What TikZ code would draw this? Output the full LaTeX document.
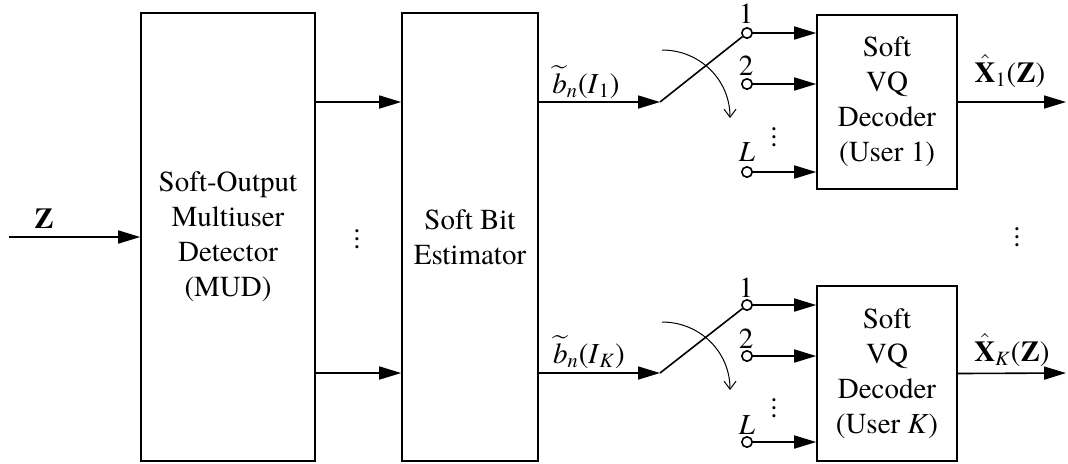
\documentclass[tikz,border=0pt]{standalone}
\usepackage{amsmath,amssymb}
\usepackage{fontspec}
\setmainfont{texgyretermes-regular.otf}[
  BoldFont=texgyretermes-bold.otf,
  ItalicFont=texgyretermes-italic.otf,
  BoldItalicFont=texgyretermes-bolditalic.otf]
\usepackage{tikz}
\usetikzlibrary{arrows.meta, calc, positioning}

\begin{document}
\begin{tikzpicture}[x=0.5pt,y=-0.5pt,
every node/.style={font=\fontsize{14.5}{17.5}\selectfont},
blk/.style={draw, line width=0.8pt, align=center, inner sep=2pt},
lbl/.style={inner sep=1pt},
sig/.style={line width=0.8pt, -{Triangle[length=11pt,width=6.5pt]}},
wire/.style={line width=0.8pt},
contact/.style={circle, draw, line width=0.8pt, fill=white, inner sep=0pt, minimum size=5.2pt},
turn/.style={line width=0.5pt, -{Straight Barb[length=4pt,width=6pt]}}]
\useasboundingbox (0,0) rectangle (1068,463);

% detector and bit estimator
\node[blk, minimum width=87pt, minimum height=224pt] (mud) at (228,237) {Soft-Output\\Multiuser\\Detector\\(MUD)};
\node[blk, minimum width=68pt, minimum height=224pt] (sbe) at (470,237) {Soft Bit\\Estimator};
\coordinate (zin) at (9,237);
\draw[sig] (zin) -- (mud.west);
\node[lbl] (zlab) at (44,219) {\textbf{Z}};
\node[lbl] (dots1) at (357,233) {\vdots};

% decoders
\node[blk, minimum width=70pt, minimum height=87pt] (dec1) at (887,102) {Soft\\VQ\\Decoder\\(User 1)};
\node[blk, minimum width=70pt, minimum height=87.5pt] (decK) at (887,373.5) {Soft\\VQ\\Decoder\\(User \textit{K})};

% user 1 branch
\coordinate (piv1) at (660,102);
\draw[sig] (mud.east |- piv1) -- (sbe.west |- piv1);
\draw[sig] (sbe.east |- piv1) -- (piv1);
\node[lbl] (b1) at (586,82) {$\widetilde{\textit{b}}_{\textit{n}}$(\textit{I}\textsubscript{1})};
\node[contact] (c11) at (747,33) {};
\node[contact] (c12) at (747,84) {};
\node[contact] (c1L) at (747,172) {};
\node[lbl] (l11) at (746,14) {1};
\node[lbl] (l12) at (746,66) {2};
\node[lbl] (l1L) at (747,152) {\textit{L}};
\node[lbl] (dots2) at (774,131) {\vdots};
\draw[wire] (piv1) -- (c11);
\draw[turn] (662,50) .. controls (700,50) and (730,80) .. (730,118);
\draw[sig] (c11) -- (dec1.west |- c11);
\draw[sig] (c12) -- (dec1.west |- c12);
\draw[sig] (c1L) -- (dec1.west |- c1L);
\coordinate (out1) at (1066,102);
\draw[sig] (dec1.east) -- (out1);
\node[lbl] (x1) at (1010,71) {$\hat{\textbf{X}}$\textsubscript{1}(\textbf{Z})};

\node[lbl] (dots3) at (1017,231) {\vdots};

% user K branch
\coordinate (pivK) at (660,373);
\draw[sig] (mud.east |- pivK) -- (sbe.west |- pivK);
\draw[sig] (sbe.east |- pivK) -- (pivK);
\node[lbl] (bK) at (589,352) {$\widetilde{\textit{b}}_{\textit{n}}$(\textit{I}\textsubscript{\textit{K}})};
\node[contact] (cK1) at (747,305) {};
\node[contact] (cK2) at (747,356) {};
\node[contact] (cKL) at (747,442) {};
\node[lbl] (lK1) at (746,288) {1};
\node[lbl] (lK2) at (746,339) {2};
\node[lbl] (lKL) at (747,425) {\textit{L}};
\node[lbl] (dots4) at (774,402) {\vdots};
\draw[wire] (pivK) -- (cK1);
\draw[turn] (662,322) .. controls (700,322) and (730,352) .. (730,390);
\draw[sig] (cK1) -- (decK.west |- cK1);
\draw[sig] (cK2) -- (decK.west |- cK2);
\draw[sig] (cKL) -- (decK.west |- cKL);
\coordinate (outK) at (1066,373);
\draw[sig] (decK.east) -- (outK);
\node[lbl] (xK) at (1012,350) {$\hat{\textbf{X}}$\textsubscript{\textit{K}}(\textbf{Z})};
\end{tikzpicture}
\end{document}
